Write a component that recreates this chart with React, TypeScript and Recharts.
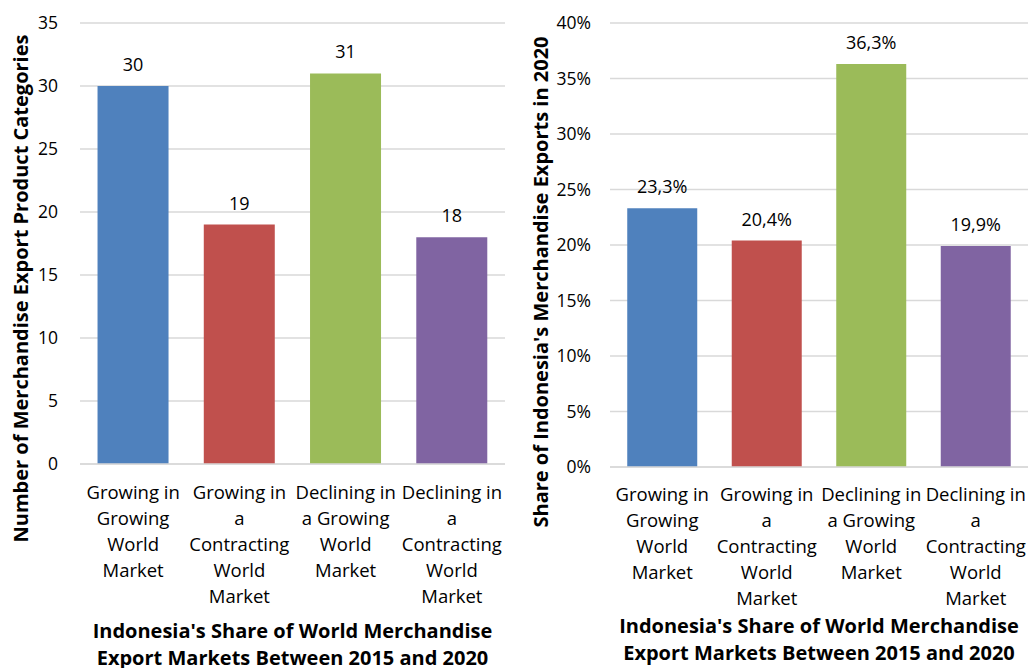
import React from 'react';
import { BarChart, Bar, XAxis, YAxis, CartesianGrid, LabelList, Label, Cell } from 'recharts';

const categories = [
  'Growing in\nGrowing\nWorld\nMarket',
  'Growing in\na\nContracting\nWorld\nMarket',
  'Declining in\na Growing\nWorld\nMarket',
  'Declining in\na\nContracting\nWorld\nMarket',
];
const productCounts = [30, 19, 31, 18];
const exportShares = [23.3, 20.4, 36.3, 19.9];
const barColors = ['#4F81BD', '#C0504D', '#9BBB59', '#8064A2'];
const countTicks = [0, 5, 10, 15, 20, 25, 30, 35];
const shareTicks = [0, 5, 10, 15, 20, 25, 30, 35, 40];

const xTitle = ["Indonesia's Share of World Merchandise", 'Export Markets Between 2015 and 2020'];
const countTitle = 'Number of Merchandise Export Product Categories';
const shareTitle = "Share of Indonesia's Merchandise Exports in 2020";

const FONT = '"Open Sans", Lato, sans-serif';

const countData = categories.map((c, i) => ({ name: c, value: productCounts[i] }));
const shareData = categories.map((c, i) => ({ name: c, value: exportShares[i] }));

const fmtPct = (v: number) => `${String(v).replace('.', ',')}%`;

const MultiTick = ({ x, y, payload, dy0 }: any) => {
  const lines = String(payload.value).split('\n');
  return (
    <text x={x} y={y} textAnchor="middle" fontFamily={FONT} fontSize={18.5} fill="#000">
      {lines.map((l, i) => (
        <tspan key={i} x={x} dy={i === 0 ? dy0 : 26}>{l}</tspan>
      ))}
    </text>
  );
};

const XTitle = ({ viewBox, dy0 }: any) => {
  const cx = viewBox.x + viewBox.width / 2;
  return (
    <text x={cx} y={viewBox.y} textAnchor="middle" fontFamily={FONT} fontSize={20} fontWeight="bold" fill="#000">
      {xTitle.map((l, i) => (
        <tspan key={i} x={cx} dy={i === 0 ? dy0 : 26.5}>{l}</tspan>
      ))}
    </text>
  );
};

const YTitle = ({ viewBox, text, shift }: any) => {
  const cx = viewBox.x + 20;
  const cy = viewBox.y + viewBox.height / 2 + shift;
  return (
    <text x={cx} y={cy} transform={`rotate(-90, ${cx}, ${cy})`} textAnchor="middle" dominantBaseline="central"
      fontFamily={FONT} fontSize={20} fontWeight="bold" fill="#000">
      {text}
    </text>
  );
};

const tickStyle = { fontFamily: FONT, fontSize: 17.5, fill: '#000' };
const labelStyle = { fontFamily: FONT, fontSize: 18, fill: '#000' };

export default function App() {
  return (
    <div style={{ position: 'absolute', left: 0, top: 0, width: 1028, height: 668, background: '#fff' }}>
      <div style={{ position: 'absolute', left: 0, top: 0 }}>
        <BarChart width={520} height={668} data={countData} margin={{ top: 23, right: 15, bottom: 0, left: 0 }} barCategoryGap="16.5%">
          <CartesianGrid vertical={false} stroke="#d9d9d9" strokeWidth={1.5} />
          <XAxis dataKey="name" height={204} interval={0} tickLine={false} axisLine={{ stroke: '#d9d9d9', strokeWidth: 1.5 }}
            tick={(p: any) => <MultiTick {...p} dy0={27} />}>
            <Label content={(p: any) => <XTitle {...p} dy0={174} />} />
          </XAxis>
          <YAxis width={80} domain={[0, 35]} ticks={countTicks} interval={0} tickLine={false} axisLine={false}
            tickMargin={16} tick={tickStyle}>
            <Label content={(p: any) => <YTitle {...p} text={countTitle} shift={45} />} />
          </YAxis>
          <Bar dataKey="value" isAnimationActive={false}>
            {countData.map((_, i) => <Cell key={i} fill={barColors[i]} />)}
            <LabelList dataKey="value" position="top" offset={15} style={labelStyle} />
          </Bar>
        </BarChart>
      </div>
      <div style={{ position: 'absolute', left: 520, top: 0 }}>
        <BarChart width={508} height={668} data={shareData} margin={{ top: 23, right: 0, bottom: 0, left: 0 }} barCategoryGap="16.5%">
          <CartesianGrid vertical={false} stroke="#d9d9d9" strokeWidth={1.5} />
          <XAxis dataKey="name" height={201} interval={0} tickLine={false} axisLine={{ stroke: '#d9d9d9', strokeWidth: 1.5 }}
            tick={(p: any) => <MultiTick {...p} dy0={26} />}>
            <Label content={(p: any) => <XTitle {...p} dy0={166} />} />
          </XAxis>
          <YAxis width={90} domain={[0, 40]} ticks={shareTicks} interval={0} tickLine={false} axisLine={false}
            tickMargin={13} tick={tickStyle} tickFormatter={(v: number) => `${v}%`}>
            <Label content={(p: any) => <YTitle {...p} text={shareTitle} shift={37} />} />
          </YAxis>
          <Bar dataKey="value" isAnimationActive={false}>
            {shareData.map((_, i) => <Cell key={i} fill={barColors[i]} />)}
            <LabelList dataKey="value" position="top" offset={15} formatter={(v: any) => fmtPct(v)} style={labelStyle} />
          </Bar>
        </BarChart>
      </div>
    </div>
  );
}
